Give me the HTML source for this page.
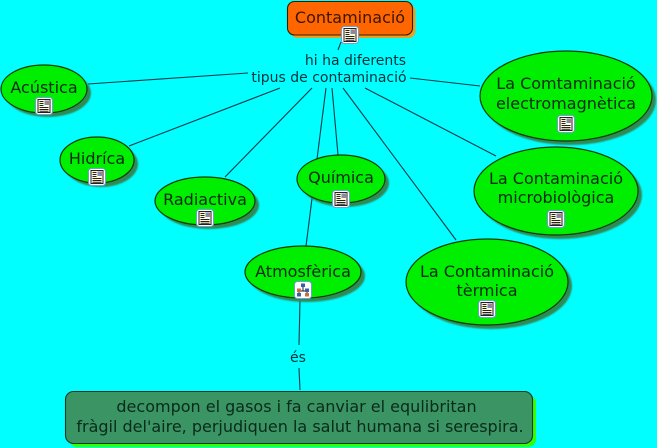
<!DOCTYPE html>
<html><head><meta charset="utf-8"><style>
html,body{margin:0;padding:0;background:#0ff;width:657px;height:448px;overflow:hidden}
svg{display:block}
text{font-family:"DejaVu Sans","Liberation Sans",sans-serif;fill:#0a2a10;text-anchor:middle}
.n{font-size:16px}
.l{font-size:14px;fill:#06303a}
.b{font-size:16px;fill:#0a2a1a}
.e{fill:#00ee00;stroke:#0a3a0a;stroke-width:1.2}
.s{fill:#2e8b57;filter:url(#bl)}
line{stroke:#0a3a4a;stroke-width:1.1}
</style></head><body>
<svg width="657" height="448" viewBox="0 0 657 448" xmlns="http://www.w3.org/2000/svg">
<defs>
<filter id="bl" x="-10%" y="-10%" width="120%" height="120%"><feGaussianBlur stdDeviation="0.7"/></filter>
<g id="doc">
<rect x="-8.5" y="-8.5" width="17" height="17" rx="3" fill="#fff" stroke="#6f9fd8" stroke-width="1"/>
<rect x="-6" y="-6.5" width="12" height="13" fill="#fff8d8" stroke="#222" stroke-width="1"/>
<rect x="0.5" y="-5.5" width="4.5" height="4.5" fill="#7a90b8"/>
<rect x="2.5" y="-4.5" width="2" height="2" fill="#c87060"/>
<path d="M-4.5-4.5h4M-4.5-2.5h4M-4.5-.5h4M-4.5 1.5h9M-4.5 3.5h9M-4.5 5.3h9" stroke="#222" stroke-width="1" fill="none"/>
</g>
<g id="map">
<rect x="-8.5" y="-8.5" width="17" height="17" rx="3" fill="#fff" stroke="#6f9fd8" stroke-width="1"/>
<path d="M0-4V1M-4 1H4M-4 1V3M4 1V3" stroke="#223" stroke-width="1" fill="none"/>
<rect x="-2" y="-6.5" width="4" height="3.5" fill="#3a5fa8"/>
<rect x="-6" y="-1.5" width="4" height="3.5" fill="#c87040"/>
<rect x="2" y="-1.5" width="4" height="3.5" fill="#3a5fa8"/>
<rect x="-6" y="3" width="4" height="3.5" fill="#3a5fa8"/>
<rect x="2" y="3" width="4" height="3.5" fill="#c87040"/>
</g>
</defs>
<rect width="657" height="448" fill="#00ffff"/>
<line x1="341" y1="42" x2="338" y2="50"/>
<line x1="88" y1="84" x2="248" y2="73"/>
<line x1="129" y1="146" x2="280" y2="88"/>
<line x1="225" y1="177" x2="312" y2="88"/>
<line x1="326" y1="88" x2="306" y2="246"/>
<line x1="332" y1="88" x2="338" y2="155"/>
<line x1="343" y1="88" x2="456" y2="240"/>
<line x1="365" y1="88" x2="496" y2="156"/>
<line x1="410" y1="78" x2="480" y2="86"/>
<line x1="300" y1="300" x2="299" y2="345"/>
<line x1="299" y1="368" x2="300" y2="390"/>

<rect x="290.5" y="4.5" width="125" height="33.5" rx="7" fill="#e8a020"/>
<rect x="287.5" y="1.5" width="125" height="33.5" rx="7" fill="#ff6600" stroke="#3a1a00" stroke-width="1.1"/>
<text class="n" x="350" y="23" style="fill:#3a1500">Contaminació</text>
<use href="#doc" x="350" y="35"/>

<text class="l" x="355.5" y="65">hi ha diferents</text>
<text class="l" x="329" y="82">tipus de contaminació</text>

<ellipse class="s" cx="48" cy="93" rx="43" ry="24"/>
<ellipse class="e" cx="44" cy="89" rx="43" ry="24"/>
<text class="n" x="44" y="93">Acústica</text>
<use href="#doc" x="44" y="106"/>

<ellipse class="s" cx="101" cy="164" rx="37" ry="23"/>
<ellipse class="e" cx="97" cy="160" rx="37" ry="23"/>
<text class="n" x="97" y="164">Hidríca</text>
<use href="#doc" x="97" y="177"/>

<ellipse class="s" cx="209" cy="205" rx="50" ry="24"/>
<ellipse class="e" cx="205" cy="201" rx="50" ry="24"/>
<text class="n" x="205" y="205">Radiactiva</text>
<use href="#doc" x="205" y="218"/>

<ellipse class="s" cx="345" cy="183" rx="44" ry="24"/>
<ellipse class="e" cx="341" cy="179" rx="44" ry="24"/>
<text class="n" x="341" y="183">Química</text>
<use href="#doc" x="341" y="199"/>

<ellipse class="s" cx="307" cy="276" rx="58" ry="26"/>
<ellipse class="e" cx="303" cy="272" rx="58" ry="26"/>
<text class="n" x="303" y="277">Atmosfèrica</text>
<use href="#map" x="303" y="290"/>

<ellipse class="s" cx="570" cy="100" rx="86" ry="45"/>
<ellipse class="e" cx="566" cy="96" rx="86" ry="45"/>
<text class="n" x="566" y="89">La Comtaminació</text>
<text class="n" x="566" y="109">electromagnètica</text>
<use href="#doc" x="566" y="124"/>

<ellipse class="s" cx="560" cy="195" rx="82" ry="44"/>
<ellipse class="e" cx="556" cy="191" rx="82" ry="44"/>
<text class="n" x="556" y="184">La Contaminació</text>
<text class="n" x="556" y="203">microbiològica</text>
<use href="#doc" x="556" y="219"/>

<ellipse class="s" cx="491" cy="286" rx="81" ry="43"/>
<ellipse class="e" cx="487" cy="282" rx="81" ry="43"/>
<text class="n" x="487" y="277">La Contaminació</text>
<text class="n" x="487" y="296">tèrmica</text>
<use href="#doc" x="487" y="309"/>

<text class="l" x="298" y="362">és</text>

<rect x="69" y="395" width="467" height="52" rx="8" fill="#33ff00"/>
<rect x="65.5" y="391.5" width="467" height="52" rx="8" fill="#3a9463" stroke="#0a3a2a" stroke-width="1.1"/>
<text class="b" x="296.5" y="412">decompon el gasos i fa canviar el equlibritan</text>
<text class="b" x="300" y="432">fràgil del'aire, perjudiquen la salut humana si serespira.</text>
</svg>
</body></html>
